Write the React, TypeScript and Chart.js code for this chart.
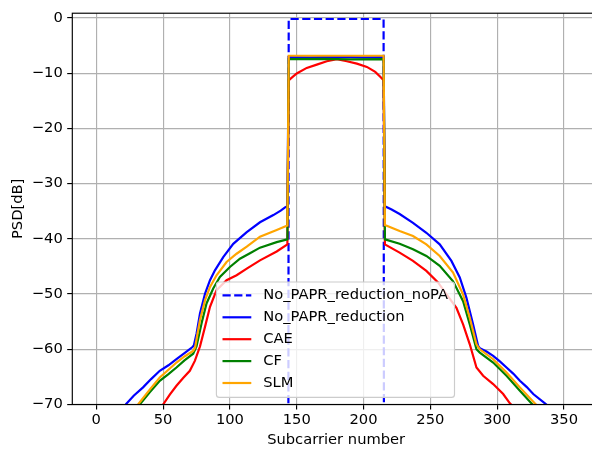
import React, { useEffect, useRef } from 'react';
import { Chart, registerables } from 'chart.js';

Chart.register(...registerables);

// ---- data ----
const seriesLabels = ['No_PAPR_reduction_noPA', 'No_PAPR_reduction', 'CAE', 'CF', 'SLM'];
const seriesColors = ['#0000ff', '#0000ff', '#ff0000', '#008000', '#ffa500'];

const xTicks = [0, 50, 100, 150, 200, 250, 300, 350];
const yTicks = [-70, -60, -50, -40, -30, -20, -10, 0];

const noPaX = [0, 143, 144, 215, 216, 359];
const noPaY = [-300, -300, -0.2, -0.2, -300, -300];

const noPaprX = [0, 22, 28, 35, 41, 47.5, 54, 60, 66, 72, 73, 75.1, 77.6, 81.4, 85.1, 88.8, 95, 102.5, 112.6, 122.5, 132.5, 138, 141.25, 143,
  144, 160, 180, 200, 215,
  216, 221, 227, 237, 247, 257, 265.75, 272, 277, 282, 285.75, 287, 292, 297, 302, 307, 312, 317, 322, 327, 335.75, 359];
const noPaprY = [-75.3, -70, -68.4, -66.9, -65.4, -63.9, -62.9, -61.8, -60.7, -59.6, -59.3, -57.1, -53.5, -49.9, -47.5, -45.7, -43.3, -40.9, -38.8, -37.0, -35.7, -34.9, -34.3, -34.1,
  -7.1, -7.15, -7.05, -7.15, -7.1,
  -34.1, -34.7, -35.5, -37.1, -38.9, -41.0, -44.0, -47.0, -50.7, -55.5, -59.4, -59.8, -60.4, -61.2, -62.2, -63.3, -64.4, -65.7, -66.8, -68.1, -69.8, -74.5];

const caeX = [0, 50, 55, 60, 65, 70, 73.75, 77.6, 81.4, 85.1, 90, 97.5, 105, 112.6, 122.5, 135, 143,
  144, 145, 150, 157.5, 165, 172.5, 180, 187.5, 195, 202.5, 208.75, 212.5, 215,
  216, 227, 237, 247, 255.75, 262, 269.5, 274.5, 279.5, 284.5, 289.5, 297, 304.5, 309.5, 359];
const caeY = [-87, -70, -68.2, -66.6, -65.2, -63.9, -62.1, -59.5, -55.9, -52.3, -49.3, -47.5, -46.6, -45.4, -43.9, -42.3, -41.0,
  -11.3, -11.08, -10.07, -9.05, -8.45, -7.85, -7.49, -7.85, -8.27, -8.87, -9.77, -10.67, -11.3,
  -41.0, -42.5, -44.0, -45.8, -47.9, -50.0, -52.5, -55.5, -59.1, -63.3, -64.8, -66.3, -68.1, -69.8, -81];

const cfX = [0, 32.5, 40, 47.5, 54, 60, 66, 72.5, 75, 78.8, 82.5, 87.5, 92.5, 100, 107.5, 115, 122.5, 135, 143,
  144, 170, 190, 215,
  216, 227, 237, 247, 257, 267, 274.5, 279.5, 284.5, 287, 297, 307, 317, 325.75, 359];
const cfY = [-79.4, -70, -67.8, -65.7, -64.5, -63.3, -62.0, -60.8, -59.5, -55.3, -51.7, -49.0, -46.9, -45.1, -43.6, -42.6, -41.6, -40.6, -40.1,
  -7.45, -7.4, -7.5, -7.45,
  -40.1, -40.9, -41.9, -43.1, -44.9, -47.7, -51.3, -55.5, -60.0, -60.6, -62.4, -64.8, -67.5, -69.8, -78.8];

const slmX = [0, 31.25, 40, 47.5, 54, 60, 66, 72.5, 74, 75.5, 77.6, 81.4, 85.1, 90, 97.5, 105, 112.6, 122.5, 135, 143,
  144, 215,
  216, 227, 237, 247, 257, 267, 274.5, 279.5, 284.5, 287, 297, 307, 317, 328.25, 359];
const slmY = [-79, -70, -67.3, -65.1, -63.7, -62.4, -61.3, -60.3, -59.6, -57.5, -54.7, -51.1, -48.7, -46.6, -44.2, -42.7, -41.4, -39.6, -38.4, -37.6,
  -6.85, -6.85,
  -37.5, -38.6, -39.5, -41.0, -43.1, -46.1, -50.1, -54.3, -59.1, -60.0, -61.8, -64.2, -66.9, -69.8, -77.5];

const seriesX = [noPaX, noPaprX, caeX, cfX, slmX];
const seriesY = [noPaY, noPaprY, caeY, cfY, slmY];
const seriesDash = [[8.2, 3.5], [], [], [], []];

const FONT = 'DejaVu Sans';
const FS = 14.7;
const LW = 2.2;

const minus = (v: number) => (v < 0 ? '\u2212' + Math.abs(v) : String(v));

const framePlugin = {
  id: 'mplFrameLegend',
  afterDatasetsDraw(chart: any) {
    const { ctx, chartArea: ca } = chart;
    ctx.save();
    // spines
    ctx.strokeStyle = '#000';
    ctx.lineWidth = 1.15;
    ctx.strokeRect(ca.left, ca.top, ca.right - ca.left, ca.bottom - ca.top);

    // legend box
    const bx = 216.4, by = 282, bw = 238.1, bh = 115.4, r = 3;
    ctx.beginPath();
    ctx.moveTo(bx + r, by);
    ctx.lineTo(bx + bw - r, by);
    ctx.arcTo(bx + bw, by, bx + bw, by + r, r);
    ctx.lineTo(bx + bw, by + bh - r);
    ctx.arcTo(bx + bw, by + bh, bx + bw - r, by + bh, r);
    ctx.lineTo(bx + r, by + bh);
    ctx.arcTo(bx, by + bh, bx, by + bh - r, r);
    ctx.lineTo(bx, by + r);
    ctx.arcTo(bx, by, bx + r, by, r);
    ctx.closePath();
    ctx.fillStyle = 'rgba(255,255,255,0.8)';
    ctx.fill();
    ctx.strokeStyle = '#cccccc';
    ctx.lineWidth = 1.15;
    ctx.stroke();

    const datasets = chart.data.datasets;
    datasets.forEach((ds: any, i: number) => {
      const y = 295.4 + i * 21.9;
      ctx.beginPath();
      ctx.setLineDash(ds.borderDash || []);
      ctx.lineDashOffset = 0;
      ctx.strokeStyle = ds.borderColor;
      ctx.lineWidth = LW;
      ctx.moveTo(222.5, y);
      ctx.lineTo(251.3, y);
      ctx.stroke();
      ctx.setLineDash([]);
      ctx.fillStyle = '#000';
      ctx.font = `${FS}px "${FONT}"`;
      ctx.textAlign = 'left';
      ctx.textBaseline = 'middle';
      ctx.fillText(ds.label, 263.2, y);
    });
    ctx.restore();
  },
};

export default function App() {
  const ref = useRef<HTMLCanvasElement | null>(null);

  useEffect(() => {
    document.body.style.margin = '0';
    const canvas = ref.current;
    if (!canvas) return;
    const datasets = seriesLabels.map((label, i) => ({
      label,
      data: seriesX[i].map((x, j) => ({ x, y: seriesY[i][j] })),
      borderColor: seriesColors[i],
      backgroundColor: seriesColors[i],
      borderWidth: LW,
      borderDash: seriesDash[i],
      pointRadius: 0,
      tension: 0,
      fill: false,
      clip: 0,
      order: seriesLabels.length - i,
    }));

    const tickFont = { family: FONT, size: FS };
    const chart = new Chart(canvas, {
      type: 'line',
      data: { datasets },
      options: {
        animation: false,
        responsive: false,
        devicePixelRatio: 1,
        layout: { padding: { left: 0, top: 11, right: 2, bottom: 0 } },
        plugins: { legend: { display: false }, tooltip: { enabled: false } },
        scales: {
          x: {
            type: 'linear',
            min: -17.95,
            max: 376.95,
            afterBuildTicks: (s: any) => { s.ticks = xTicks.map((v) => ({ value: v })); },
            afterFit: (s: any) => { s.height = 44.5; },
            grid: { color: '#b0b0b0', lineWidth: 1.15, tickColor: '#000', tickLength: 5.1, tickWidth: 1.15 },
            border: { display: false },
            ticks: { color: '#000', font: tickFont, padding: 1.6, maxRotation: 0, autoSkip: false, callback: (v: any) => minus(Number(v)) },
            title: { display: true, text: 'Subcarrier number', color: '#000', font: tickFont, padding: { top: 0, bottom: 0.2 } },
          },
          y: {
            type: 'linear',
            min: -70,
            max: 0.85,
            afterBuildTicks: (s: any) => { s.ticks = yTicks.map((v) => ({ value: v })); },
            afterFit: (s: any) => { s.width = 72.3; },
            grid: { color: '#b0b0b0', lineWidth: 1.15, tickColor: '#000', tickLength: 5.1, tickWidth: 1.15 },
            border: { display: false },
            ticks: { color: '#000', font: tickFont, padding: 4.4, autoSkip: false, callback: (v: any) => minus(Number(v)) },
            title: { display: true, text: 'PSD[dB]', color: '#000', font: tickFont, padding: { top: 9.2, bottom: 0 } },
          },
        },
      },
      plugins: [framePlugin],
    } as any);
    return () => chart.destroy();
  }, []);

  return (
    <div style={{ position: 'fixed', left: 0, top: 0, width: 592, height: 449, overflow: 'hidden', background: '#fff' }}>
      <canvas ref={ref} width={602} height={449} style={{ display: 'block', width: 602, height: 449 }} />
    </div>
  );
}
